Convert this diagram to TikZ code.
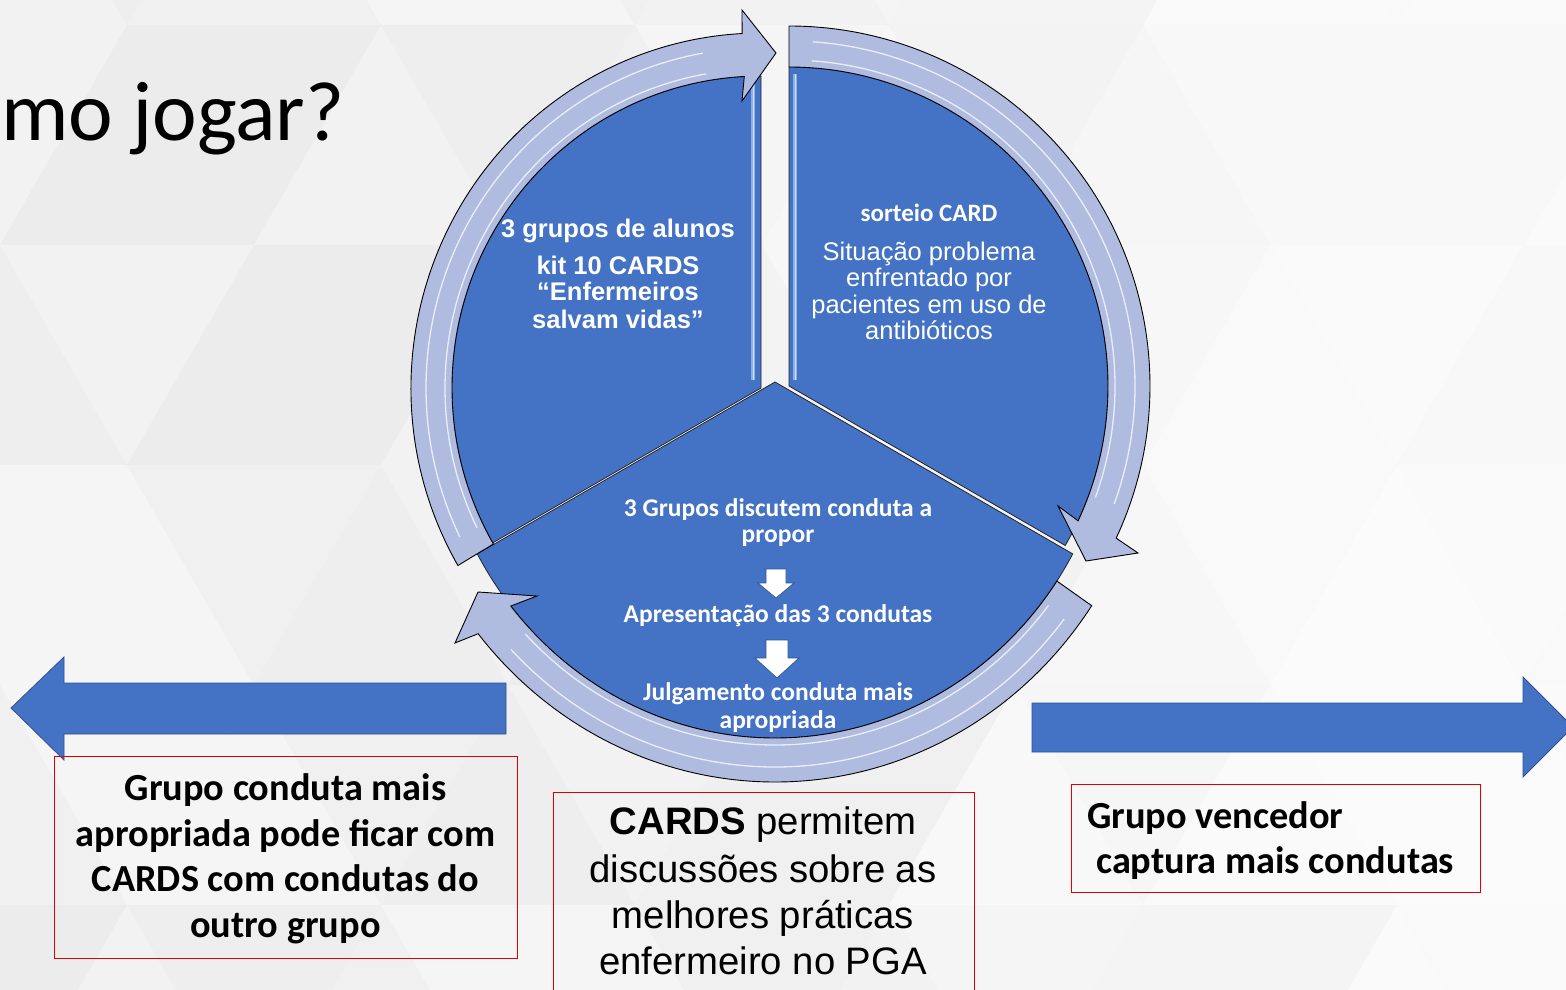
\documentclass[tikz,border=0pt]{standalone}
\usepackage{fontspec}
\setmainfont{Liberation Sans}
\newfontfamily\calibri{Carlito}
\newfontfamily\arial{Liberation Sans}
\usetikzlibrary{calc}
\definecolor{bluefill}{HTML}{4472C4}
\definecolor{ringfill}{HTML}{AFBBDF}
\definecolor{darkline}{HTML}{2F528F}
\definecolor{boxred}{HTML}{E00000}
\definecolor{stripe}{HTML}{9CC0F0}
\definecolor{bg0}{HTML}{F2F2F2}
\definecolor{bg1}{HTML}{EEEEEE}
\definecolor{bg2}{HTML}{F0F0F0}
\definecolor{bg3}{HTML}{ECECEC}
\definecolor{bg4}{HTML}{F5F5F5}
\newcommand\fTL{\arial\bfseries\fontsize{25.5}{30}\selectfont}
\newcommand\fTRb{\calibri\bfseries\fontsize{25}{30}\selectfont}
\newcommand\fTR{\arial\fontsize{25.5}{30}\selectfont}
\newcommand\fBot{\calibri\bfseries\fontsize{25.5}{30}\selectfont}
\newcommand\fBox{\calibri\bfseries\fontsize{38.3}{44}\selectfont}
\newcommand\fMid{\arial\fontsize{38.3}{44}\selectfont}
\begin{document}
\begin{tikzpicture}[x=1pt,y=1pt,
  sector/.style={fill=bluefill, draw=black!85, line width=0.8pt},
  ringarrow/.style={fill=ringfill, draw=black, line width=0.9pt, line join=miter},
  gloss/.style={draw=white, line width=1.3pt, opacity=0.75},
  wtext/.style={text=white, inner sep=0pt, anchor=base},
  btext/.style={text=black, inner sep=0pt, anchor=base},
  redbox/.style={draw=boxred, line width=1.2pt, inner sep=0pt, anchor=north west},
  blockarrow/.style={fill=bluefill, draw=darkline, line width=0.8pt},
  downarrow/.style={fill=white, draw=darkline, line width=0.7pt},
]
\clip (0,0) rectangle (1566,-990);
\fill[bg2] (0,0) rectangle (1566,-990);
\foreach \r in {0,...,5}{
  \pgfmathsetmacro\Yt{195-220*\r}
  \pgfmathsetmacro\Yb{\Yt-220}
  \pgfmathsetmacro\xo{mod(\r,2)*127}
  \foreach \c in {-1,...,6}{
    \pgfmathtruncatemacro\su{mod(3*\r+2*\c+20,5)}
    \pgfmathtruncatemacro\sd{mod(2*\r+3*\c+21,5)}
    \pgfmathtruncatemacro\pc{100-max(0,min(65,(\c-2)*22))}
    \fill[bg\su!\pc!white] (\xo+254*\c,\Yt) -- (\xo+254*\c-127,\Yb) -- (\xo+254*\c+127,\Yb) -- cycle;
    \fill[bg\sd!\pc!white] (\xo+254*\c,\Yt) -- (\xo+254*\c+254,\Yt) -- (\xo+254*\c+127,\Yb) -- cycle;
  }
}

% title
\node[anchor=base west, inner sep=0pt, font=\calibri\fontsize{84.5}{100}\selectfont] (title) at (1,-140) {mo jogar?};

% sectors
\coordinate (C1) at (761,-388);
\coordinate (C2) at (789,-386);
\coordinate (C3) at (775,-382);
\path[sector] (C1) -- ($(C1)+(90:309 and 312)$) arc[start angle=90, end angle=209.76, x radius=309, y radius=312] -- cycle;
\path[sector] (C2) -- ($(C2)+(90:319 and 319)$) arc[start angle=90, end angle=-30, x radius=319, y radius=319] -- cycle;
\path[sector] (C3) -- ($(C3)+(208.87:340 and 356)$) arc[start angle=208.87, end angle=331.13, x radius=340, y radius=356] -- cycle;
\draw[stripe, line width=4pt, opacity=0.8] (753,-84) -- (753,-380);
\draw[white, line width=0.8pt, opacity=0.6] (753,-84) -- (753,-380);
\draw[stripe, line width=4pt, opacity=0.8] (795,-74) -- (795,-380);
\draw[white, line width=0.8pt, opacity=0.6] (795,-74) -- (795,-380);

% ring arrows
\path[ringarrow] ($(C1)+(210:350 and 355)$) arc[start angle=210, end angle=93.1, x radius=350, y radius=355]
  -- (742,-10) -- (776,-53) -- (742,-101)
  -- ($(C1)+(93.1:309 and 312)$) arc[start angle=93.1, end angle=210, x radius=309, y radius=312] -- cycle;
\draw[gloss] ($(C1)+(206:335 and 340)$) arc[start angle=206, end angle=100, x radius=335, y radius=340];
\draw[gloss] ($(C1)+(206:316 and 319)$) arc[start angle=206, end angle=100, x radius=316, y radius=319];

\path[ringarrow] ($(C2)+(90:361 and 360)$) arc[start angle=90, end angle=-25, x radius=361, y radius=360]
  -- (1138,-553) -- (1086,-561) -- (1058,-506)
  -- ($(C2)+(-25:319 and 319)$) arc[start angle=-25, end angle=90, x radius=319, y radius=319] -- cycle;
\draw[gloss] ($(C2)+(86:346 and 345)$) arc[start angle=86, end angle=-20, x radius=346, y radius=345];
\draw[gloss] ($(C2)+(86:326 and 326)$) arc[start angle=86, end angle=-20, x radius=326, y radius=326];

\path[ringarrow] ($(C3)+(-34:382 and 400)$) arc[start angle=-34, end angle=-141, x radius=382, y radius=400]
  -- (455,-643) -- (478,-592) -- (537,-596)
  -- ($(C3)+(-141:340 and 356)$) arc[start angle=-141, end angle=-34, x radius=340, y radius=356] -- cycle;
\draw[gloss] ($(C3)+(-38:367 and 385)$) arc[start angle=-38, end angle=-136, x radius=367, y radius=385];
\draw[gloss] ($(C3)+(-38:347 and 363)$) arc[start angle=-38, end angle=-136, x radius=347, y radius=363];

% sector texts
\node[wtext, font=\fTL] (tl1) at (618,-237) {3 grupos de alunos};
\node[wtext, font=\fTL] (tl2) at (618,-274) {kit 10 CARDS};
\node[wtext, font=\fTL] (tl3) at (618,-300) {“Enfermeiros};
\node[wtext, font=\fTL] (tl4) at (618,-328) {salvam vidas”};

\node[wtext, font=\fTRb] (tr1) at (929,-221) {sorteio CARD};
\node[wtext, font=\fTR] (tr2) at (929,-260) {Situação problema};
\node[wtext, font=\fTR] (tr3) at (929,-286.7) {enfrentado por};
\node[wtext, font=\fTR] (tr4) at (929,-313.3) {pacientes em uso de};
\node[wtext, font=\fTR] (tr5) at (929,-339.3) {antibióticos};

\node[wtext, font=\fBot] (b1) at (778,-516.7) {3 Grupos discutem conduta a};
\node[wtext, font=\fBot] (b2) at (778,-542) {propor};
\node[wtext, font=\fBot] (b3) at (778,-622) {Apresentação das 3 condutas};
\node[wtext, font=\fBot] (b4) at (778,-700.7) {Julgamento conduta mais};
\node[wtext, font=\fBot] (b5) at (778,-728) {apropriada};

\path[downarrow] (766,-569) -- (786,-569) -- (786,-583) -- (794,-583) -- (776,-598) -- (758,-583) -- (766,-583) -- cycle;
\path[downarrow] (766,-640) -- (788,-640) -- (788,-658) -- (799,-658) -- (777,-678) -- (755,-658) -- (766,-658) -- cycle;

% block arrows
\path[blockarrow] (506,-683) -- (64,-683) -- (64,-657) -- (11,-708) -- (64,-760) -- (64,-734) -- (506,-734) -- cycle;
\path[blockarrow] (1032,-703) -- (1523,-703) -- (1523,-677) -- (1573,-727) -- (1523,-777) -- (1523,-752) -- (1032,-752) -- cycle;

% boxes
\node[redbox, minimum width=463pt, minimum height=202pt] (boxL) at (54,-756) {};
\node[btext, font=\fBox] (l1) at (285.5,-800) {Grupo conduta mais};
\node[btext, font=\fBox] (l2) at (285.5,-846) {apropriada pode ficar com};
\node[btext, font=\fBox] (l3) at (285.5,-891) {CARDS com condutas do};
\node[btext, font=\fBox] (l4) at (285.5,-937) {outro grupo};

\node[redbox, minimum width=421pt, minimum height=220pt] (boxM) at (553,-792) {};
\node[btext, font=\fMid] (m1) at (763,-834) {\textbf{CARDS} permitem};
\node[btext, font=\fMid] (m2) at (763,-882) {discussões sobre as};
\node[btext, font=\fMid] (m3) at (763,-928) {melhores práticas};
\node[btext, font=\fMid] (m4) at (763,-974) {enfermeiro no PGA};

\node[redbox, minimum width=409pt, minimum height=108pt] (boxR) at (1071,-784) {};
\node[btext, anchor=base west, font=\fBox] (r1) at (1087,-828) {Grupo vencedor};
\node[btext, anchor=base west, font=\fBox] (r2) at (1096,-873) {captura mais condutas};
\end{tikzpicture}
\end{document}
